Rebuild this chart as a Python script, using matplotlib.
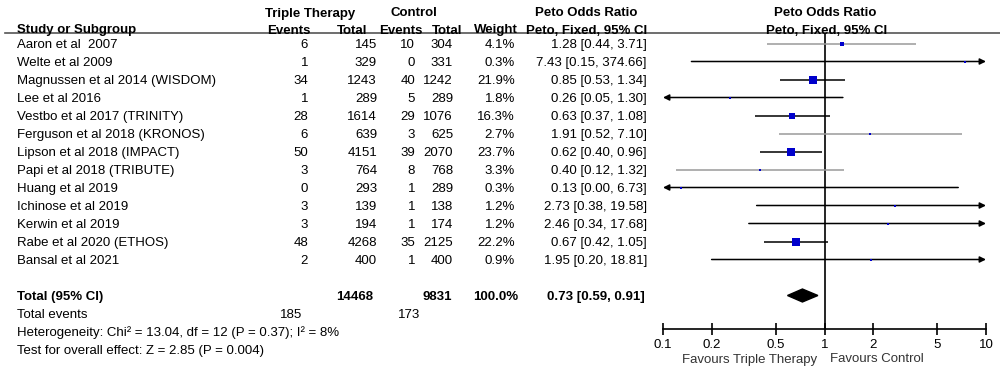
import matplotlib
matplotlib.use('Agg')
import matplotlib.pyplot as plt
import matplotlib.transforms as mtransforms
import numpy as np

plt.rcParams['font.family'] = ['Liberation Sans', 'DejaVu Sans']

studies = ['Aaron et al  2007', 'Welte et al 2009', 'Magnussen et al 2014 (WISDOM)',
           'Lee et al 2016', 'Vestbo et al 2017 (TRINITY)', 'Ferguson et al 2018 (KRONOS)',
           'Lipson et al 2018 (IMPACT)', 'Papi et al 2018 (TRIBUTE)', 'Huang et al 2019',
           'Ichinose et al 2019', 'Kerwin et al 2019', 'Rabe et al 2020 (ETHOS)',
           'Bansal et al 2021']
triple_events = [6, 1, 34, 1, 28, 6, 50, 3, 0, 3, 3, 48, 2]
triple_total = [145, 329, 1243, 289, 1614, 639, 4151, 764, 293, 139, 194, 4268, 400]
control_events = [10, 0, 40, 5, 29, 3, 39, 8, 1, 1, 1, 35, 1]
control_total = [304, 331, 1242, 289, 1076, 625, 2070, 768, 289, 138, 174, 2125, 400]
weights = [4.1, 0.3, 21.9, 1.8, 16.3, 2.7, 23.7, 3.3, 0.3, 1.2, 1.2, 22.2, 0.9]
odds = [1.28, 7.43, 0.85, 0.26, 0.63, 1.91, 0.62, 0.40, 0.13, 2.73, 2.46, 0.67, 1.95]
ci_low = [0.44, 0.15, 0.53, 0.05, 0.37, 0.52, 0.40, 0.12, 0.00, 0.38, 0.34, 0.42, 0.20]
ci_high = [3.71, 374.66, 1.34, 1.30, 1.08, 7.10, 0.96, 1.32, 6.73, 19.58, 17.68, 1.05, 18.81]
line_grey = [True, False, False, False, False, True, False, True, False, False, True, False, False]

total_triple, total_control = 14468, 9831
events_triple, events_control = 185, 173
pooled_or, pooled_lo, pooled_hi = 0.73, 0.59, 0.91
heterogeneity = 'Heterogeneity: Chi² = 13.04, df = 12 (P = 0.37); I² = 8%'
overall = 'Test for overall effect: Z = 2.85 (P = 0.004)'
ticks = [0.1, 0.2, 0.5, 1, 2, 5, 10]

W, H = 1000, 368
fig = plt.figure(figsize=(10, 3.68), dpi=100)

# forest axes: x 663..986 px, y 33..329 px (from top)
ax = fig.add_axes([663 / W, 1 - 329 / H, (986 - 663) / W, (329 - 33) / H])
row_px = 18.0
row0 = 43.5
ax.set_ylim((329 - row0) / row_px, -(row0 - 33) / row_px)
ax.set_xscale('log')
ax.set_xlim(0.1, 10)
for s in ['top', 'left', 'right']:
    ax.spines[s].set_visible(False)
ax.spines['bottom'].set_linewidth(1.2)
ax.set_yticks([])
ax.set_xticks(ticks)
ax.set_xticklabels([f'{t:g}' for t in ticks])
ax.minorticks_off()
ax.tick_params(axis='x', direction='inout', length=8, width=1.2, labelsize=9.5, pad=3)
ax.axvline(1, color='black', lw=1.2)

fs = 9.5
trans = mtransforms.blended_transform_factory(fig.transFigure, ax.transData)

def col(xpx, y, s, ha='right', bold=False):
    fig.text(xpx / W, y, s, transform=trans, ha=ha, va='center_baseline', fontsize=fs,
             fontweight='bold' if bold else 'normal')

for i, name in enumerate(studies):
    col(17, i, name, ha='left')
    col(308, i, str(triple_events[i]))
    col(377, i, str(triple_total[i]))
    col(415, i, str(control_events[i]))
    col(453, i, str(control_total[i]))
    col(515, i, f'{weights[i]:.1f}%')
    col(647, i, f'{odds[i]:.2f} [{ci_low[i]:.2f}, {ci_high[i]:.2f}]')

    c = '#9a9a9a' if line_grey[i] else 'black'
    lo = max(ci_low[i], 0.1)
    hi = min(ci_high[i], 10)
    if ci_high[i] > 10:
        ax.annotate('', xy=(10, i), xytext=(lo, i), annotation_clip=False,
                    arrowprops=dict(arrowstyle='-|>', color='black', lw=1.1,
                                    mutation_scale=9, shrinkA=0, shrinkB=0))
    elif ci_low[i] < 0.1:
        ax.annotate('', xy=(0.1, i), xytext=(hi, i), annotation_clip=False,
                    arrowprops=dict(arrowstyle='-|>', color='black', lw=1.1,
                                    mutation_scale=9, shrinkA=0, shrinkB=0))
    else:
        ax.plot([lo, hi], [i, i], color=c, lw=1.1, solid_capstyle='butt')
    side_px = max(2.0, 1.5 * np.sqrt(weights[i]))
    ax.plot(odds[i], i, marker='s', color='#0000cc', markersize=side_px * 0.72,
            markeredgewidth=0, zorder=5)

# totals
yt = 14
col(17, yt, 'Total (95% CI)', ha='left', bold=True)
col(373, yt, str(total_triple), bold=True)
col(452, yt, str(total_control), bold=True)
col(518, yt, '100.0%', bold=True)
col(645, yt, f'{pooled_or:.2f} [{pooled_lo:.2f}, {pooled_hi:.2f}]', bold=True)
h = 0.36
ax.fill([pooled_lo, pooled_or, pooled_hi, pooled_or], [yt, yt - h, yt, yt + h],
        color='black', zorder=5)

col(17, 15, 'Total events', ha='left')
col(302, 15, str(events_triple))
col(420, 15, str(events_control))
col(17, 16, heterogeneity, ha='left')
col(17, 17, overall, ha='left')

# headers
def head(xpx, ypx, s, ha='center'):
    fig.text(xpx / W, 1 - ypx / H, s, ha=ha, va='center_baseline', fontsize=fs,
             fontweight='bold')

head(310, 12, 'Triple Therapy')
head(414, 12, 'Control')
head(586, 12, 'Peto Odds Ratio')
head(825, 12, 'Peto Odds Ratio')
head(17, 29, 'Study or Subgroup', ha='left')
head(311, 29, 'Events', ha='right')
head(367, 29, 'Total', ha='right')
head(422, 29, 'Events', ha='right')
head(462, 29, 'Total', ha='right')
head(518, 29, 'Weight', ha='right')
head(647, 29, 'Peto, Fixed, 95% CI', ha='right')
head(827, 29, 'Peto, Fixed, 95% CI')
fig.add_artist(plt.Line2D([5 / W, 1.0], [1 - 33 / H, 1 - 33 / H], color='#555555', lw=1.2))

fig.text(817 / W, 1 - 358 / H, 'Favours Triple Therapy', ha='right', va='center_baseline',
         fontsize=fs, color='#333333')
fig.text(830 / W, 1 - 358 / H, 'Favours Control', ha='left', va='center_baseline',
         fontsize=fs, color='#333333')

fig.savefig('out.png', dpi=100)
